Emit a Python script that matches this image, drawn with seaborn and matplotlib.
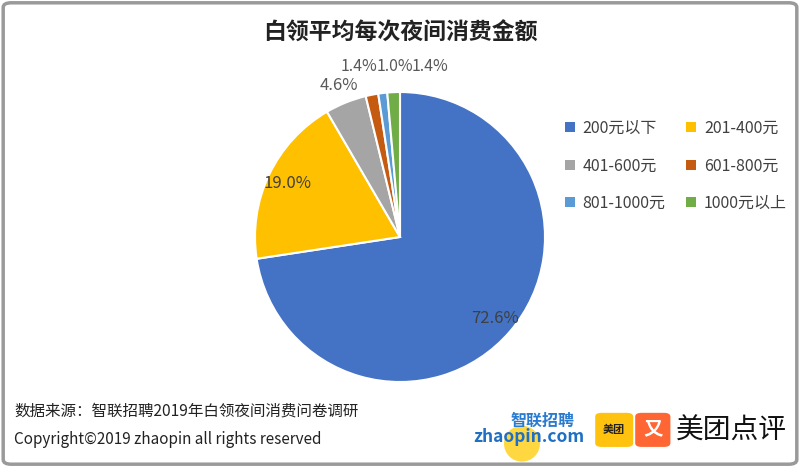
import matplotlib
matplotlib.use('Agg')
import matplotlib.pyplot as plt
from matplotlib.patches import FancyBboxPatch, Patch, Ellipse
import seaborn as sns
import numpy as np

# --- data ---
categories = ['200元以下', '201-400元', '401-600元', '601-800元', '801-1000元', '1000元以上']
shares = [72.6, 19.0, 4.6, 1.4, 1.0, 1.4]
colors = ['#4472C4', '#FFC000', '#A5A5A5', '#C55A11', '#5B9BD5', '#70AD47']

title = '白领平均每次夜间消费金额'
source_text = '数据来源：智联招聘2019年白领夜间消费问卷调研'
copyright_text = 'Copyright©2019 zhaopin all rights reserved'

sns.set_theme(style='white')
plt.rcParams['font.family'] = ['Noto Sans CJK SC', 'DejaVu Sans']

fig = plt.figure(figsize=(8, 4.67), dpi=100)
fig.patch.set_facecolor('white')

# outer border
fig.patches.append(FancyBboxPatch((0.004, 0.006), 0.992, 0.988, boxstyle='round,pad=0,rounding_size=0.01',
                                  transform=fig.transFigure, fill=False, edgecolor='#9a9a9a', linewidth=2.5))

ax = fig.add_axes([0.31875, 0.182, 0.3625, 0.621])
wedges, texts = ax.pie(shares, colors=colors, startangle=90, counterclock=False,
                       wedgeprops=dict(edgecolor='white', linewidth=1.5))
ax.set_xlim(-1, 1)
ax.set_ylim(-1, 1)
ax.set_aspect('equal')

# percentage labels: inside for big slices, outside for small ones
small = [i for i, v in enumerate(shares) if v < 2]
for i, (w, v) in enumerate(zip(wedges, shares)):
    ang = np.deg2rad((w.theta1 + w.theta2) / 2)
    if v > 10:
        x, y = 0.86 * np.cos(ang), 0.86 * np.sin(ang)
        col, fs = '#404040', 12
    elif v >= 2:
        x, y = 1.13 * np.cos(ang), 1.13 * np.sin(ang)
        col, fs = '#595959', 12
    else:
        # tiny slices: labels sit side by side above the pie (they crowd in the original)
        k = small.index(i)
        x, y = -0.28 + 0.245 * k, 1.175
        col, fs = '#595959', 11.5
    ax.text(x, y, f'{v:.1f}%', ha='center', va='center', fontsize=fs, color=col, clip_on=False)

fig.text(0.5, 0.93, title, ha='center', va='center', fontsize=16.5, fontweight='bold', color='#222222')

# legend filled row by row like the original
order = [0, 2, 4, 1, 3, 5]
handles = [Patch(facecolor=colors[i], edgecolor='none') for i in order]
labels = [categories[i] for i in order]
fig.legend(handles, labels, ncol=2, loc='center', bbox_to_anchor=(0.845, 0.645), frameon=False,
           fontsize=11.5, handlelength=0.6, handleheight=0.6, handletextpad=0.5, columnspacing=1.3,
           labelspacing=1.28, labelcolor='#404040')

fig.text(0.018, 0.12, source_text, fontsize=11.2, va='center', color='#222222')
fig.text(0.018, 0.058, copyright_text, fontsize=11, va='center', color='#222222')

# logos (rough text version)
fig.patches.append(Ellipse((0.6525, 0.05), 0.045, 0.077, transform=fig.transFigure, facecolor='#FFD21F',
                           edgecolor='none', alpha=0.85))
fig.text(0.591, 0.064, 'zhaopin.com', fontsize=12.5, fontweight='bold', style='italic', color='#1f6fc5', va='center')
fig.text(0.638, 0.098, '智联招聘', fontsize=11.5, fontweight='bold', style='italic', color='#2a7bd0', va='center')
fig.patches.append(FancyBboxPatch((0.744, 0.043), 0.0475, 0.073, boxstyle='round,pad=0,rounding_size=0.008',
                                  transform=fig.transFigure, facecolor='#FFC20E', edgecolor='none'))
fig.text(0.7677, 0.08, '美团', fontsize=8, ha='center', va='center', color='#222222', fontweight='bold')
fig.patches.append(FancyBboxPatch((0.794, 0.043), 0.044, 0.073, boxstyle='round,pad=0,rounding_size=0.008',
                                  transform=fig.transFigure, facecolor='#FF6633', edgecolor='none'))
fig.text(0.816, 0.08, '又', fontsize=14, ha='center', va='center', color='white', fontweight='bold')
fig.text(0.845, 0.077, '美团点评', fontsize=20, va='center', color='#111111')

fig.savefig('out.png', dpi=100)
